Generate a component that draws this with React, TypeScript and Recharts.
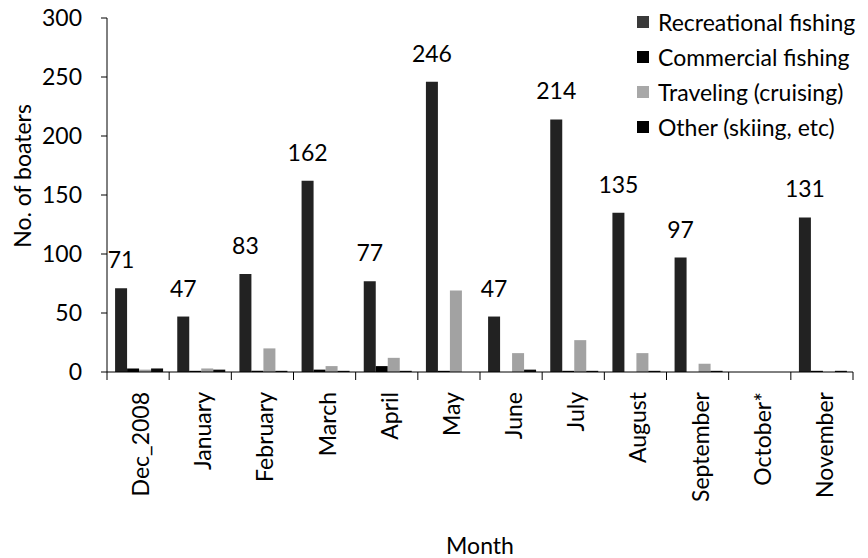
import React from 'react';
import { BarChart, Bar, XAxis, YAxis, Legend, LabelList } from 'recharts';

const months = ['Dec_2008', 'January', 'February', 'March', 'April', 'May', 'June', 'July', 'August', 'September', 'October*', 'November'];
const recreational = [71, 47, 83, 162, 77, 246, 47, 214, 135, 97, 0, 131];
const commercial = [3, 1, 1, 2, 5, 1, 0, 1, 0, 0, 0, 1];
const traveling = [2, 3, 20, 5, 12, 69, 16, 27, 16, 7, 0, 0];
const other = [3, 2, 1, 1, 1, 0, 2, 1, 1, 1, 0, 1];
const yTicks = [0, 50, 100, 150, 200, 250, 300];

const data = months.map((m, i) => ({
  month: m,
  recreational: recreational[i],
  commercial: commercial[i],
  traveling: traveling[i],
  other: other[i],
}));

const FONT = 'Lato, "Open Sans", sans-serif';
const FS = 23;

const series = [
  { key: 'recreational', name: 'Recreational fishing', color: '#222222', legend: '#3a3a3a' },
  { key: 'commercial', name: 'Commercial fishing', color: '#000000', legend: '#000000' },
  { key: 'traveling', name: 'Traveling (cruising)', color: '#a2a2a2', legend: '#a8a8a8' },
  { key: 'other', name: 'Other (skiing, etc)', color: '#0a0a0a', legend: '#000000' },
];

const XTick = (props: any) => {
  const { x, y, payload, index, visibleTicksCount } = props;
  const half = payload.offset || 0;
  const tx = x + 2;
  const ty = y + 20;
  return (
    <g>
      <line x1={x - half} x2={x - half} y1={y} y2={y + 8} stroke="#000" strokeWidth={1} />
      {index === visibleTicksCount - 1 && (
        <line x1={x + half} x2={x + half} y1={y} y2={y + 8} stroke="#000" strokeWidth={1} />
      )}
      <text
        x={tx}
        y={ty}
        transform={`rotate(-90 ${tx} ${ty})`}
        textAnchor="end"
        dominantBaseline="central"
        fontFamily={FONT}
        fontSize={FS}
        fill="#000"
      >
        {payload.value}
      </text>
    </g>
  );
};

const TopLabel = (props: any) => {
  const { x, y, width, value } = props;
  if (!value) return null;
  return (
    <text x={x + width / 2} y={y - 20} textAnchor="middle" fontFamily={FONT} fontSize={FS} fill="#000">
      {value}
    </text>
  );
};

const LegendContent = () => (
  <div style={{ fontFamily: FONT, fontSize: FS, color: '#000' }}>
    {series.map((s) => (
      <div key={s.key} style={{ display: 'flex', alignItems: 'center', height: 35, whiteSpace: 'nowrap' }}>
        <span style={{ display: 'inline-block', width: 12, height: 12, background: s.legend, marginRight: 9 }} />
        <span>{s.name}</span>
      </div>
    ))}
  </div>
);

export default function App() {
  return (
    <div style={{ position: 'absolute', left: 0, top: 0, width: 868, height: 558, background: '#fff' }}>
      <BarChart
        width={868}
        height={558}
        data={data}
        margin={{ top: 18, right: 15, left: 0, bottom: 0 }}
        barCategoryGap="13%"
        barGap={0}
      >
        <XAxis
          dataKey="month"
          interval={0}
          height={186}
          tickLine={false}
          tickSize={0}
          tickMargin={0}
          tick={<XTick />}
          axisLine={{ stroke: '#000' }}
          label={({ viewBox }: any) => (
            <text
              x={viewBox.x + viewBox.width / 2}
              y={545}
              textAnchor="middle"
              dominantBaseline="central"
              fontFamily={FONT}
              fontSize={FS}
              fill="#000"
            >
              Month
            </text>
          )}
        />
        <YAxis
          width={107}
          domain={[0, 300]}
          ticks={yTicks}
          interval={0}
          tickSize={6}
          tickMargin={19}
          axisLine={{ stroke: '#000' }}
          tickLine={{ stroke: '#000' }}
          tick={{ fontFamily: FONT, fontSize: FS, fill: '#000' }}
          label={({ viewBox }: any) => {
            const cx = 22;
            const cy = viewBox.y + viewBox.height / 2 - 19;
            return (
              <text
                x={cx}
                y={cy}
                transform={`rotate(-90 ${cx} ${cy})`}
                textAnchor="middle"
                dominantBaseline="central"
                fontFamily={FONT}
                fontSize={FS}
                fill="#000"
              >
                No. of boaters
              </text>
            );
          }}
        />
        <Legend
          layout="vertical"
          align="center"
          verticalAlign="middle"
          wrapperStyle={{ left: 637, top: 4, width: 231 }}
          content={<LegendContent />}
        />
        {series.map((s) => (
          <Bar key={s.key} dataKey={s.key} name={s.name} fill={s.color} isAnimationActive={false}>
            {s.key === 'recreational' && <LabelList dataKey={s.key} content={<TopLabel />} />}
          </Bar>
        ))}
      </BarChart>
    </div>
  );
}
